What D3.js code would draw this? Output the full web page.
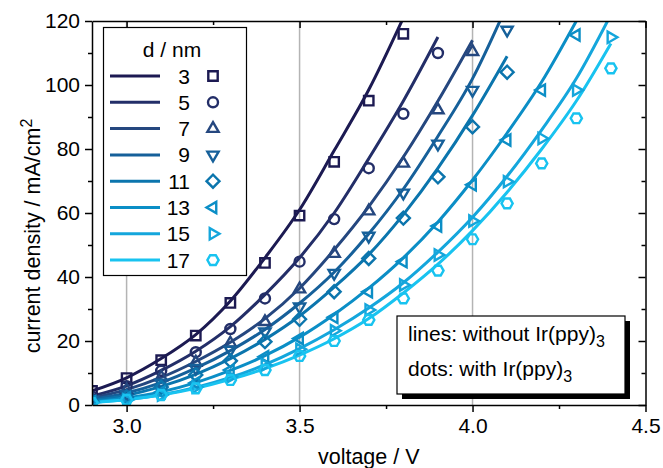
<!DOCTYPE html>
<html>
<head>
<meta charset="utf-8">
<script src="https://cdn.jsdelivr.net/npm/d3@7"></script>
<style>
  html, body { margin: 0; padding: 0; background: #fff; }
  svg { display: block; font-family: "Liberation Sans", Arial, Helvetica, sans-serif; }
</style>
</head>
<body>
<svg id="chart" width="663" height="468"></svg>
<script>
// ---------- data ----------
const voltages = [2.9, 3.0, 3.1, 3.2, 3.3, 3.4, 3.5, 3.6, 3.7, 3.8, 3.9, 4.0, 4.1, 4.2, 4.3, 4.4];
const thicknesses = ["3", "5", "7", "9", "11", "13", "15", "17"];
const seriesColors = ["#1c1a52", "#232e68", "#25477f", "#16609a", "#0b75ad", "#0b8ec6", "#14a6dc", "#18c3f0"];
const markerTypes = ["square", "circle", "triUp", "triDown", "diamond", "triLeft", "triRight", "hexagon"];

// dots: with Ir(ppy)3 (values start at 2.9 V)
const dots3  = [4.4, 8.4, 14, 21.7, 31.9, 44.4, 59.2, 76, 95.1, 116];
const dots5  = [2.6, 5.9, 10.7, 16.5, 23.75, 33.3, 44.8, 58.1, 74, 91, 110];
const dots7  = [2, 4.7, 8.7, 13.3, 19.3, 26, 36.2, 47.3, 60.6, 75.5, 92.2, 110.4];
const dots9  = [1.6, 3.4, 6.9, 11.5, 17.2, 22.9, 30.7, 41.2, 52.8, 66.3, 81.6, 98.4, 117.2];
const dots11 = [1.2, 2.5, 5.6, 9.4, 13.8, 19.8, 26.8, 35.4, 45.8, 58.4, 71.3, 86.9, 104];
const dots13 = [1, 2.2, 4, 6.9, 10.9, 15.1, 20.8, 27.4, 35.4, 44.8, 55.9, 68.8, 82.8, 98.4, 115.6];
const dots15 = [0.8, 1.6, 3.1, 5.6, 8.8, 12.5, 17.4, 23.2, 29.7, 37.5, 46.9, 57.5, 69.8, 83.3, 98.4, 114.9];
const dots17 = [0.6, 1.6, 3.1, 5.2, 7.8, 10.9, 15.3, 20, 26.6, 33.3, 42, 51.8, 63, 75.5, 89.6, 105.2];

// lines: without Ir(ppy)3 (values start at 2.9 V)
const line3  = [4.4, 8.5, 14.5, 22, 32.5, 46, 61, 79.5, 98.5, 121];
const line5  = [2.8, 6, 10.8, 16.8, 24.5, 34.5, 46, 60, 77, 95, 115];
const line7  = [2.2, 4.8, 8.6, 13.6, 19.6, 27, 36.5, 48.5, 62, 77.5, 95, 114];
const line9  = [1.8, 3.8, 7, 11.5, 17, 23.6, 31.8, 41.5, 53.5, 67.5, 84, 102, 125];
const line11 = [1.4, 3, 5.8, 9.6, 14.5, 20.5, 27.8, 36.8, 47, 59.5, 74, 90.5, 109];
const line13 = [1, 2.2, 4.1, 7, 10.8, 15.4, 21.2, 28.3, 36.5, 46, 57.2, 70.3, 85, 101, 120];
const line15 = [0.8, 1.7, 3.2, 5.5, 8.6, 12.6, 17.6, 23.5, 30.3, 38.2, 47.8, 58.7, 71.5, 86, 102, 122];
const line17 = [0.7, 1.7, 3.1, 5.2, 8, 11.4, 15.6, 20.7, 27, 35, 44, 54.5, 66.5, 80, 95, 113];

const xMajorTicks = [3.0, 3.5, 4.0, 4.5];
const xMinorTicks = [3.25, 3.75, 4.25];
const yMajorTicks = [0, 20, 40, 60, 80, 100, 120];
const yMinorTicks = [10, 30, 50, 70, 90, 110];
const gridVoltages = [3.0, 3.5, 4.0];

const allDots = [dots3, dots5, dots7, dots9, dots11, dots13, dots15, dots17];
const allLines = [line3, line5, line7, line9, line11, line13, line15, line17];

const series = thicknesses.map((t, i) => ({
  name: t,
  color: seriesColors[i],
  marker: markerTypes[i],
  dots: allDots[i].map((v, k) => ({ x: voltages[k], y: v })),
  line: allLines[i].map((v, k) => ({ x: voltages[k], y: v }))
}));

// ---------- layout ----------
const L = 92, R = 645.5, T = 21, B = 405;
const svg = d3.select("#chart");
const x = d3.scaleLinear().domain([2.9, 4.5]).range([L, R]);
const y = d3.scaleLinear().domain([0, 120]).range([B, T]);

svg.append("defs").append("clipPath").attr("id", "plotclip")
  .append("rect").attr("x", L).attr("y", T).attr("width", R - L).attr("height", B - T);

// grid
svg.append("g").selectAll("line").data(gridVoltages).join("line")
  .attr("x1", d => x(d)).attr("x2", d => x(d)).attr("y1", T).attr("y2", B)
  .attr("stroke", "#b4b4b4").attr("stroke-width", 1.5);

// marker shapes
function markerPath(type) {
  const p = d3.path();
  const poly = (R0, angles) => {
    angles.forEach((a, i) => {
      const r = a * Math.PI / 180;
      const px = R0 * Math.cos(r), py = R0 * Math.sin(r);
      if (i === 0) p.moveTo(px, py); else p.lineTo(px, py);
    });
    p.closePath();
  };
  switch (type) {
    case "square": p.rect(-4.7, -4.7, 9.4, 9.4); break;
    case "circle": p.arc(0, 0, 5, 0, 2 * Math.PI); p.closePath(); break;
    case "triUp": poly(6.5, [-90, 30, 150]); break;
    case "triDown": poly(6.5, [90, 210, 330]); break;
    case "triLeft": poly(6.5, [180, 300, 60]); break;
    case "triRight": poly(6.5, [0, 120, 240]); break;
    case "diamond": poly(6.5, [0, 90, 180, 270]); break;
    case "hexagon": poly(5.6, [0, 60, 120, 180, 240, 300]); break;
  }
  return p.toString();
}

const plot = svg.append("g").attr("clip-path", "url(#plotclip)");
const lineGen = d3.line().x(d => x(d.x)).y(d => y(d.y)).curve(d3.curveMonotoneX);

plot.selectAll("path.curve").data(series).join("path")
  .attr("class", "curve")
  .attr("d", d => lineGen(d.line))
  .attr("fill", "none")
  .attr("stroke", d => d.color)
  .attr("stroke-width", 3);

series.forEach(s => {
  plot.append("g").selectAll("path").data(s.dots).join("path")
    .attr("d", markerPath(s.marker))
    .attr("transform", d => `translate(${x(d.x)},${y(d.y)})`)
    .attr("fill", "none")
    .attr("stroke", s.color)
    .attr("stroke-width", 2.4);
});

// ---------- axes ----------
const fontSize = 21;
const styleAxis = g => {
  g.select(".domain").attr("stroke", "#000").attr("stroke-width", 1.5);
  g.selectAll(".tick line").attr("stroke", "#000").attr("stroke-width", 1.5);
  g.selectAll("text").attr("font-size", fontSize).attr("fill", "#000")
    .attr("font-family", "'Liberation Sans', Arial, sans-serif");
};

// bottom
svg.append("g").attr("transform", `translate(0,${B})`)
  .call(d3.axisBottom(x).tickValues(xMajorTicks).tickFormat(d3.format(".1f")).tickSize(7).tickSizeOuter(0).tickPadding(6))
  .call(styleAxis);
svg.append("g").attr("transform", `translate(0,${B})`)
  .call(d3.axisBottom(x).tickValues(xMinorTicks).tickFormat("").tickSize(4).tickSizeOuter(0))
  .call(g => g.select(".domain").remove())
  .call(styleAxis);
// top
svg.append("g").attr("transform", `translate(0,${T})`)
  .call(d3.axisTop(x).tickValues(xMajorTicks).tickFormat("").tickSize(-7).tickSizeOuter(0))
  .call(styleAxis);
svg.append("g").attr("transform", `translate(0,${T})`)
  .call(d3.axisTop(x).tickValues(xMinorTicks).tickFormat("").tickSize(-4).tickSizeOuter(0))
  .call(g => g.select(".domain").remove())
  .call(styleAxis);
// left
svg.append("g").attr("transform", `translate(${L},0)`)
  .call(d3.axisLeft(y).tickValues(yMajorTicks).tickFormat(d3.format("d")).tickSize(7).tickSizeOuter(0).tickPadding(5))
  .call(styleAxis);
svg.append("g").attr("transform", `translate(${L},0)`)
  .call(d3.axisLeft(y).tickValues(yMinorTicks).tickFormat("").tickSize(4).tickSizeOuter(0))
  .call(g => g.select(".domain").remove())
  .call(styleAxis);
// right
svg.append("g").attr("transform", `translate(${R},0)`)
  .call(d3.axisRight(y).tickValues(yMajorTicks).tickFormat("").tickSize(-7).tickSizeOuter(0))
  .call(styleAxis);
svg.append("g").attr("transform", `translate(${R},0)`)
  .call(d3.axisRight(y).tickValues(yMinorTicks).tickFormat("").tickSize(-4).tickSizeOuter(0))
  .call(g => g.select(".domain").remove())
  .call(styleAxis);

// axis titles
svg.append("text")
  .attr("x", (L + R) / 2).attr("y", 464)
  .attr("text-anchor", "middle").attr("font-size", 21.5)
  .text("voltage / V");

const yt = svg.append("text")
  .attr("transform", "translate(40,236) rotate(-90)")
  .attr("text-anchor", "middle").attr("font-size", 21.5);
yt.append("tspan").text("current density / mA/cm");
yt.append("tspan").attr("font-size", 16).attr("dy", -8).text("2");

// ---------- legend ----------
const lg = svg.append("g");
lg.append("rect").attr("x", 103.5).attr("y", 27.5).attr("width", 143).attr("height", 248)
  .attr("fill", "#fff").attr("stroke", "#000").attr("stroke-width", 1.2);
lg.append("text").attr("x", 172).attr("y", 57).attr("text-anchor", "middle")
  .attr("font-size", 21).text("d / nm");
const rowY = i => 76 + i * 26.3;
const rows = lg.selectAll("g.row").data(series).join("g").attr("class", "row")
  .attr("transform", (d, i) => `translate(0,${rowY(i)})`);
rows.append("line").attr("x1", 110).attr("x2", 160).attr("y1", 0).attr("y2", 0)
  .attr("stroke", d => d.color).attr("stroke-width", 3);
rows.append("text").attr("x", 190).attr("y", 7.5).attr("text-anchor", "end")
  .attr("font-size", 21).text(d => d.name);
rows.append("path").attr("d", d => markerPath(d.marker))
  .attr("transform", "translate(213,0)")
  .attr("fill", "none").attr("stroke", d => d.color).attr("stroke-width", 2.4);

// ---------- annotation box ----------
const ab = svg.append("g");
ab.append("rect").attr("x", 402).attr("y", 321).attr("width", 228).attr("height", 78).attr("fill", "#000");
ab.append("rect").attr("x", 397).attr("y", 316).attr("width", 228).attr("height", 78)
  .attr("fill", "#fff").attr("stroke", "#000").attr("stroke-width", 1.2);
const t1 = ab.append("text").attr("x", 408).attr("y", 341).attr("font-size", 21);
t1.append("tspan").text("lines: without Ir(ppy)");
t1.append("tspan").attr("font-size", 16).attr("dy", 6).text("3");
const t2 = ab.append("text").attr("x", 408).attr("y", 376).attr("font-size", 21);
t2.append("tspan").text("dots: with Ir(ppy)");
t2.append("tspan").attr("font-size", 16).attr("dy", 6).text("3");
</script>
</body>
</html>
